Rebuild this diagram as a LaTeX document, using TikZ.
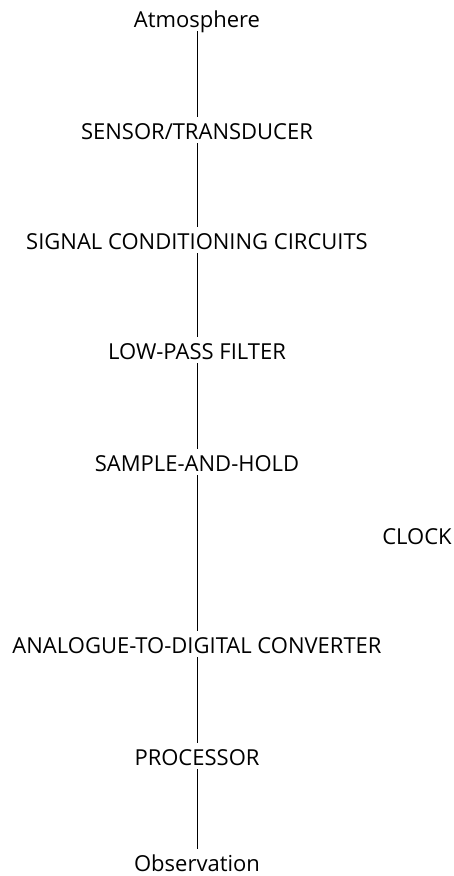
\documentclass[tikz,border=0pt]{standalone}
\usepackage{fontspec}
\setmainfont{Open Sans}
\tikzset{
  stage/.style={anchor=base, inner ysep=0pt, text height=22pt, text depth=4pt,
    font=\fontsize{22}{26}\selectfont},
  link/.style={line width=1pt}
}
\begin{document}
\begin{tikzpicture}[x=1pt, y=-1pt]
  \useasboundingbox (0,0) rectangle (454,876);

  % chain of stages, top to bottom
  \node[stage] (atmos) at (197,27) {Atmosphere};
  \node[stage] (sensor) at (197,139) {SENSOR/TRANSDUCER};
  \node[stage] (signal) at (197,249) {SIGNAL CONDITIONING CIRCUITS};
  \node[stage] (lowpass) at (197,359) {LOW-PASS FILTER};
  \node[stage] (sample) at (197,471) {SAMPLE-AND-HOLD};
  \node[stage] (adc) at (197,653) {ANALOGUE-TO-DIGITAL CONVERTER};
  \node[stage] (proc) at (197,765) {PROCESSOR};
  \node[stage] (obs) at (197,871) {Observation};

  % clock on the right
  \node[stage] (clock) at (417,544) {CLOCK};

  % connections
  \draw[link] (atmos) -- (sensor);
  \draw[link] (sensor) -- (signal);
  \draw[link] (signal) -- (lowpass);
  \draw[link] (lowpass) -- (sample);
  \draw[link] (sample) -- (adc);
  \draw[link] (adc) -- (proc);
  \draw[link] (proc) -- (obs);
\end{tikzpicture}
\end{document}
